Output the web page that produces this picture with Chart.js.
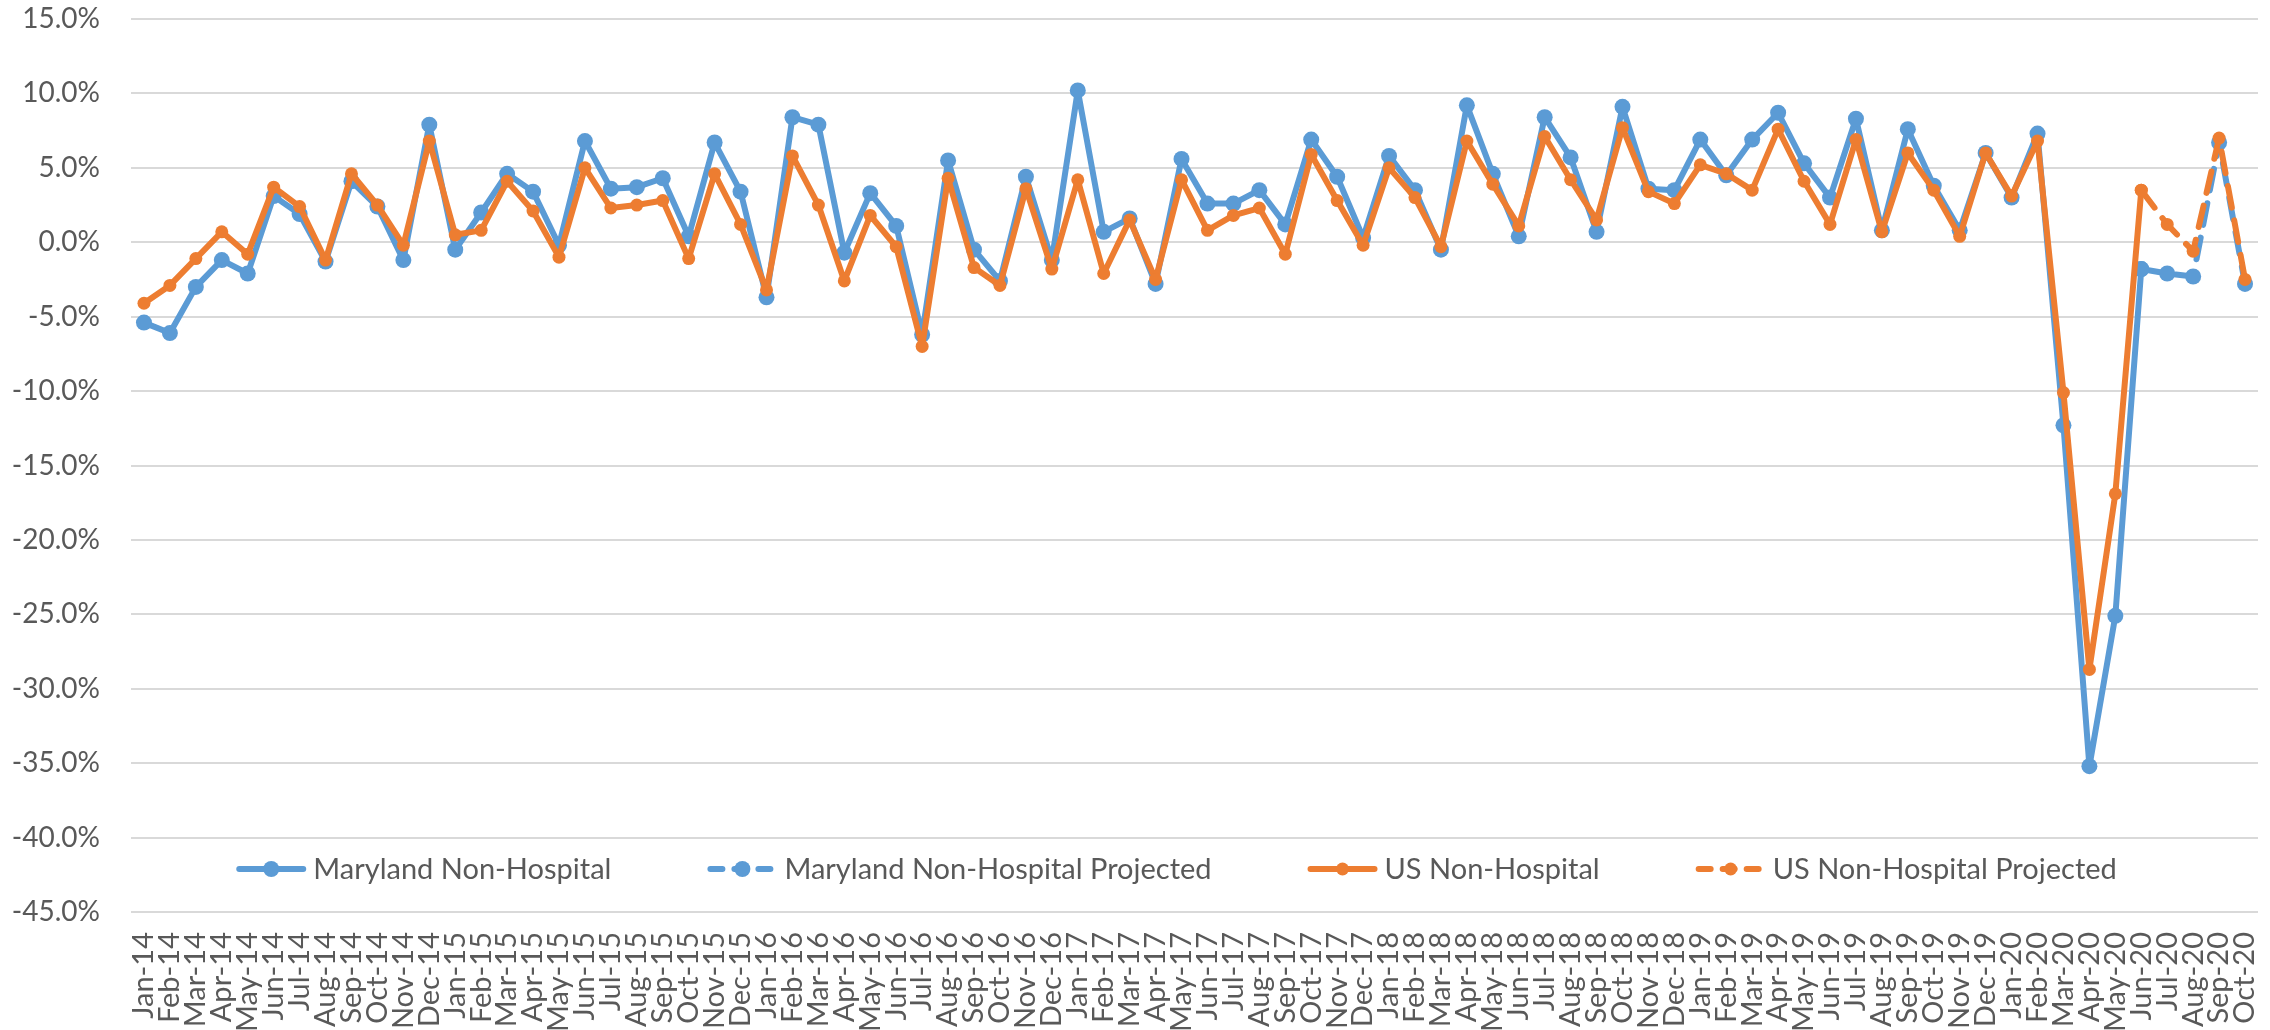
<!DOCTYPE html>
<html>
<head>
<meta charset="utf-8">
<title>Non-Hospital growth</title>
<script src="https://cdn.jsdelivr.net/npm/chart.js@4.4.1/dist/chart.umd.min.js"></script>
<style>
    html, body { margin: 0; padding: 0; background: #ffffff; }
    #growthChart { display: block; }
</style>
</head>
<body>
<canvas id="growthChart" width="2270" height="1030"></canvas>
<script>
const MONTHS = ["Jan", "Feb", "Mar", "Apr", "May", "Jun", "Jul", "Aug", "Sep", "Oct", "Nov", "Dec"];
const YEARS = ["14", "15", "16", "17", "18", "19", "20"];
const LAST_LABEL = "Oct-20";

// actual values, Jan-14 .. Jun-20
const marylandActual = [
    -5.4, -6.1, -3.0, -1.2, -2.1, 3.1, 1.9, -1.3, 4.1, 2.4, -1.2, 7.9,
    -0.5, 2.0, 4.6, 3.4, -0.2, 6.8, 3.6, 3.7, 4.3, 0.4, 6.7, 3.4,
    -3.7, 8.4, 7.9, -0.7, 3.3, 1.1, -6.2, 5.5, -0.5, -2.6, 4.4, -1.2,
    10.2, 0.7, 1.6, -2.8, 5.6, 2.6, 2.6, 3.5, 1.2, 6.9, 4.4, 0.3,
    5.8, 3.5, -0.5, 9.2, 4.6, 0.4, 8.4, 5.7, 0.7, 9.1, 3.6, 3.5,
    6.9, 4.5, 6.9, 8.7, 5.3, 3.0, 8.3, 0.8, 7.6, 3.8, 0.8, 6.0,
    3.0, 7.3, -12.3, -35.2, -25.1, -1.8,
];
const usActual = [
    -4.1, -2.9, -1.1, 0.7, -0.8, 3.7, 2.4, -1.2, 4.6, 2.5, -0.2, 6.8,
    0.5, 0.8, 4.1, 2.1, -1.0, 5.0, 2.3, 2.5, 2.8, -1.1, 4.6, 1.2,
    -3.2, 5.8, 2.5, -2.6, 1.8, -0.3, -7.0, 4.3, -1.7, -2.9, 3.6, -1.8,
    4.2, -2.1, 1.5, -2.5, 4.2, 0.8, 1.8, 2.3, -0.8, 5.9, 2.8, -0.2,
    5.0, 3.0, -0.3, 6.8, 3.9, 1.1, 7.1, 4.2, 1.5, 7.7, 3.4, 2.6,
    5.2, 4.6, 3.5, 7.6, 4.1, 1.2, 6.9, 0.7, 6.0, 3.5, 0.4, 6.0,
    3.1, 6.8, -10.1, -28.7, -16.9, 3.5,
];

// projected values, Jun-20 .. Oct-20
const projectedMonths = ["Jun-20", "Jul-20", "Aug-20", "Sep-20", "Oct-20"];
const marylandProjected = [-1.8, -2.1, -2.3, 6.7, -2.8];
const usProjected = [3.5, 1.2, -0.6, 7.0, -2.5];

const BLUE = "#5b9bd5";
const ORANGE = "#ed7d31";
const TEXT = "#595959";

const categories = [];
for (const y of YEARS) {
    for (const m of MONTHS) {
        categories.push(`${m}-${y}`);
        if (`${m}-${y}` === LAST_LABEL) break;
    }
}

const toPoints = (values) => projectedMonths.map((m, i) => ({ x: m, y: values[i] }));

const lineStyle = (color, radius) => ({
    borderColor: color,
    backgroundColor: color,
    pointBackgroundColor: color,
    pointBorderColor: color,
    borderWidth: 6,
    borderJoinStyle: "round",
    borderCapStyle: "round",
    pointRadius: radius,
    pointBorderWidth: 0,
    tension: 0,
    fill: false,
    spanGaps: false,
});

// legend drawn inside the plot, near its bottom edge
const insideLegend = {
    id: "insideLegend",
    afterDraw(chart) {
        const { ctx, chartArea } = chart;
        const sample = 70;
        const gap = 7;
        const between = 96;
        ctx.save();
        ctx.font = "29px Lato";
        const items = chart.data.datasets.map((ds) => ({
            ds,
            width: sample + gap + ctx.measureText(ds.label).width,
        }));
        const total = items.reduce((s, it) => s + it.width, 0) + between * (items.length - 1);
        let x = (chartArea.left + chartArea.right) / 2 - 18 - total / 2;
        const y = chartArea.bottom - 43;
        items.forEach(({ ds, width }) => {
            ctx.strokeStyle = ds.borderColor;
            ctx.lineWidth = ds.borderWidth;
            ctx.lineCap = "round";
            ctx.setLineDash(ds.borderDash ? [12, 12] : []);
            ctx.beginPath();
            ctx.moveTo(x + 3, y);
            ctx.lineTo(x + sample - 3, y);
            ctx.stroke();
            ctx.setLineDash([]);
            ctx.fillStyle = ds.pointBackgroundColor;
            ctx.beginPath();
            ctx.arc(x + sample / 2, y, ds.pointRadius, 0, Math.PI * 2);
            ctx.fill();
            ctx.fillStyle = TEXT;
            ctx.textBaseline = "middle";
            ctx.textAlign = "left";
            ctx.fillText(ds.label, x + sample + gap, y + 1);
            x += width + between;
        });
        ctx.restore();
    },
};

const draw = () => {
    Chart.defaults.font.family = "Lato";
    Chart.defaults.color = TEXT;

    new Chart(document.getElementById("growthChart"), {
        type: "line",
        data: {
            labels: categories,
            datasets: [
                {
                    label: "Maryland Non-Hospital",
                    data: marylandActual,
                    order: 2,
                    ...lineStyle(BLUE, 8),
                },
                {
                    label: "Maryland Non-Hospital Projected",
                    data: toPoints(marylandProjected),
                    order: 2,
                    borderDash: [22, 13],
                    ...lineStyle(BLUE, 8),
                },
                {
                    label: "US Non-Hospital",
                    data: usActual,
                    order: 1,
                    ...lineStyle(ORANGE, 6.5),
                },
                {
                    label: "US Non-Hospital Projected",
                    data: toPoints(usProjected),
                    order: 1,
                    borderDash: [22, 13],
                    ...lineStyle(ORANGE, 6.5),
                },
            ],
        },
        options: {
            responsive: false,
            animation: false,
            devicePixelRatio: 1,
            layout: {
                autoPadding: false,
                padding: { left: 11, right: 12, top: 19, bottom: 0 },
            },
            plugins: {
                legend: { display: false },
                tooltip: { enabled: false },
            },
            scales: {
                x: {
                    offset: true,
                    grid: { display: false, drawTicks: false },
                    border: { display: false },
                    ticks: {
                        autoSkip: false,
                        maxRotation: 90,
                        minRotation: 90,
                        padding: 20,
                        color: TEXT,
                        font: { size: 29 },
                    },
                    afterFit: (scale) => {
                        scale.height = 118;
                        scale.paddingLeft = 0;
                        scale.paddingRight = 0;
                    },
                },
                y: {
                    min: -45,
                    max: 15,
                    grid: {
                        color: "#d9d9d9",
                        lineWidth: 2,
                        drawTicks: false,
                    },
                    border: { display: false },
                    ticks: {
                        stepSize: 5,
                        padding: 31,
                        color: TEXT,
                        font: { size: 28 },
                        callback: (value) => `${value.toFixed(1)}%`,
                    },
                    afterFit: (scale) => {
                        scale.width = 120;
                        scale.paddingTop = 0;
                        scale.paddingBottom = 0;
                    },
                },
            },
        },
        plugins: [insideLegend],
    });
};

document.fonts.load("29px Lato").then(draw, draw);
</script>
</body>
</html>
